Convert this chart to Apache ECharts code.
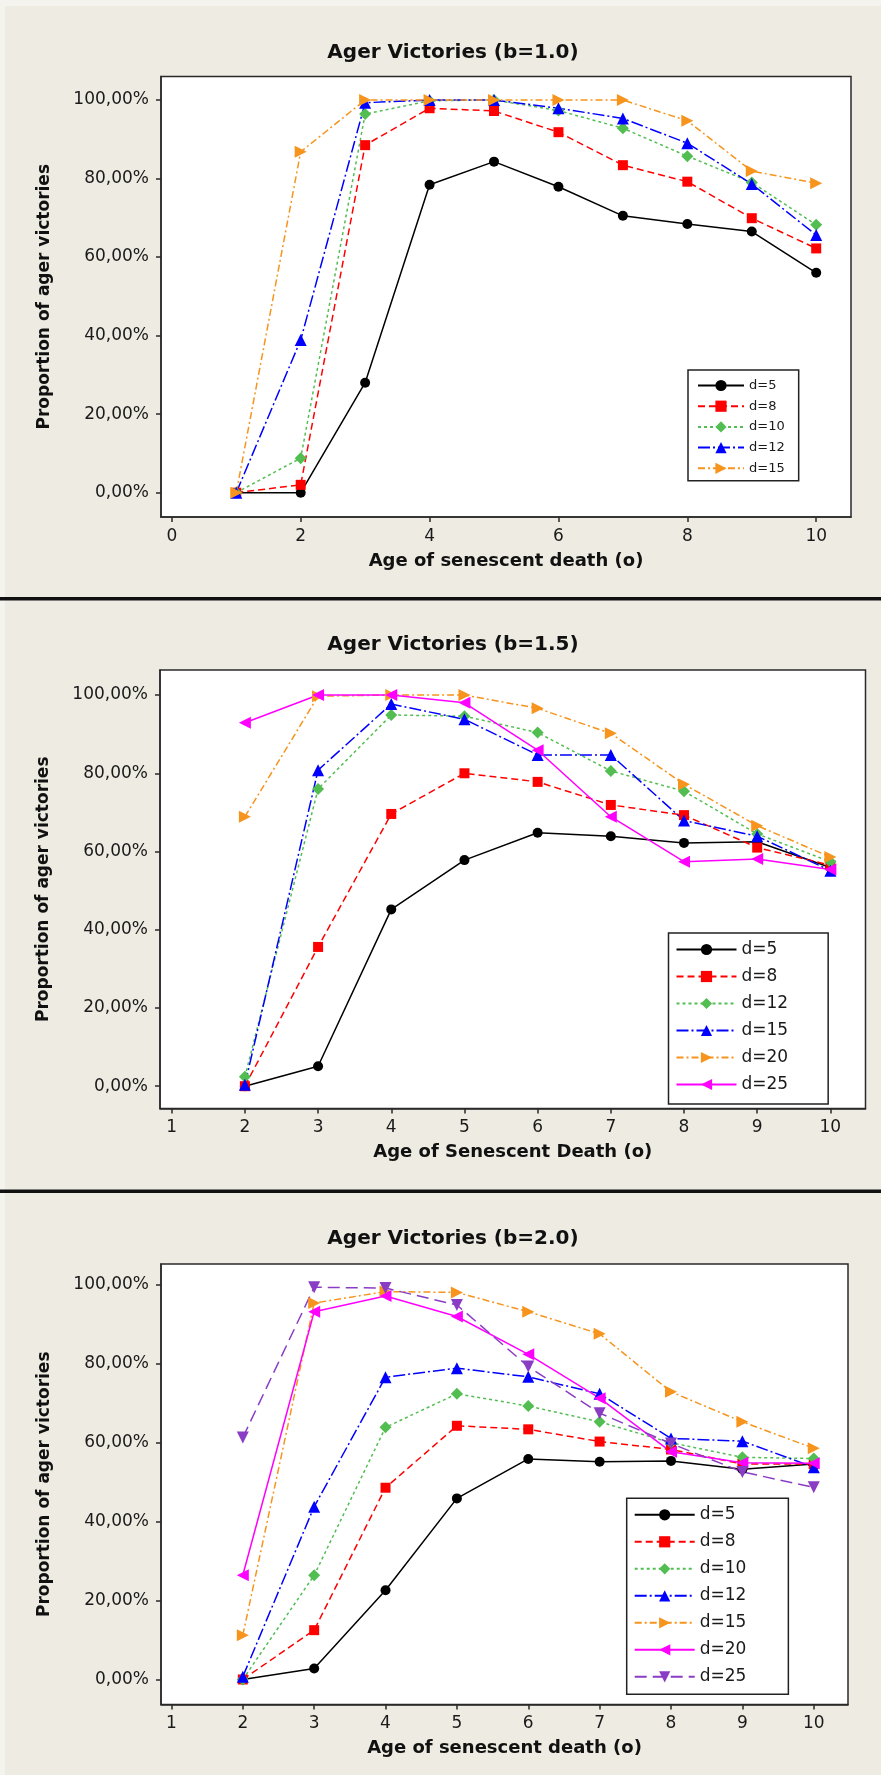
<!DOCTYPE html>
<html><head><meta charset="utf-8">
<script src="https://cdn.jsdelivr.net/npm/echarts@6/dist/echarts.min.js"></script>
<style>html,body{margin:0;padding:0;background:#EEEBE2;} #c{width:881px;height:1775px;}</style>
</head><body><div id="c"></div>
<script>
// ---------------- DATA ----------------
const titles = ['Ager Victories (b=1.0)', 'Ager Victories (b=1.5)', 'Ager Victories (b=2.0)'];
const xNames = ['Age of senescent death (o)', 'Age of Senescent Death (o)', 'Age of senescent death (o)'];
const yName = 'Proportion of ager victories';
const yTicks = [0, 20, 40, 60, 80, 100];
const xTicks1 = [0, 2, 4, 6, 8, 10];
const xTicks23 = [1, 2, 3, 4, 5, 6, 7, 8, 9, 10];

// Panel 1 (b=1.0)
const x1 = [1, 2, 3, 4, 5, 6, 7, 8, 9, 10];
const legend1 = ['d=5', 'd=8', 'd=10', 'd=12', 'd=15'];
const b10_d5  = [0, 0, 28.0, 78.4, 84.3, 77.9, 70.5, 68.4, 66.5, 56.0];
const b10_d8  = [0, 2.0, 88.5, 97.9, 97.2, 91.8, 83.4, 79.2, 69.9, 62.2];
const b10_d10 = [0, 8.8, 96.4, 99.8, 100, 97.3, 92.8, 85.7, 79.0, 68.2];
const b10_d12 = [0, 38.9, 99.3, 100, 100, 97.9, 95.3, 89.0, 78.6, 65.6];
const b10_d15 = [0, 86.8, 100, 100, 100, 100, 100, 94.7, 81.9, 78.8];

// Panel 2 (b=1.5)
const x2 = [2, 3, 4, 5, 6, 7, 8, 9, 10];
const legend2 = ['d=5', 'd=8', 'd=12', 'd=15', 'd=20', 'd=25'];
const b15_d5  = [0, 5.1, 45.2, 57.8, 64.8, 63.9, 62.2, 62.5, 55.9];
const b15_d8  = [0, 35.6, 69.6, 80.0, 77.8, 71.9, 69.3, 61.0, 56.5];
const b15_d12 = [2.4, 76.0, 94.9, 94.6, 90.4, 80.6, 75.4, 64.5, 57.4];
const b15_d15 = [0.4, 80.8, 97.7, 93.8, 84.7, 84.7, 67.9, 63.9, 55.1];
const b15_d20 = [68.9, 99.7, 100, 100, 96.6, 90.2, 77.2, 66.6, 58.6];
const b15_d25 = [92.9, 100, 100, 98.0, 85.9, 68.9, 57.4, 58.1, 55.4];

// Panel 3 (b=2.0)
const x3 = [2, 3, 4, 5, 6, 7, 8, 9, 10];
const legend3 = ['d=5', 'd=8', 'd=10', 'd=12', 'd=15', 'd=20', 'd=25'];
const b20_d5  = [0, 2.8, 22.6, 45.9, 55.9, 55.2, 55.4, 53.3, 54.6];
const b20_d8  = [0, 12.5, 48.6, 64.3, 63.4, 60.3, 58.3, 54.6, 54.6];
const b20_d10 = [0, 26.4, 63.9, 72.4, 69.3, 65.3, 60.0, 56.3, 56.0];
const b20_d12 = [0.7, 43.8, 76.6, 78.9, 76.7, 72.4, 61.1, 60.4, 53.8];
const b20_d15 = [11.2, 95.4, 98.3, 98.1, 93.2, 87.6, 72.9, 65.3, 58.6];
const b20_d20 = [26.4, 93.2, 97.2, 92.0, 82.4, 71.3, 57.7, 54.9, 54.8];
const b20_d25 = [61.3, 99.4, 99.2, 94.9, 79.3, 67.5, 59.8, 52.6, 48.7];

// ---------------- STYLES ----------------
const FONT = 'DejaVu Sans';
const ROLES = {
  black:   {color: '#000000', symbol: 'circle', size: 10, rot: 0, dash: 'solid'},
  red:     {color: '#FF0000', symbol: 'rect', size: 10, rot: 0, dash: [7, 4]},
  green:   {color: '#52BE52', symbol: 'diamond', size: 12, rot: 0, dash: [3, 3]},
  blue:    {color: '#0000FF', symbol: 'triangle', size: 12, rot: 0, dash: [12, 3, 2, 3]},
  orange:  {color: '#F7941D', symbol: 'triangle', size: 12, rot: -90, dash: [7, 3, 2, 3]},
  magenta: {color: '#FF00FF', symbol: 'triangle', size: 12, rot: 90, dash: 'solid'},
  purple:  {color: '#8A3CC4', symbol: 'triangle', size: 12, rot: 180, dash: [12, 6]}
};

const panels = [
  {
    grid: {left: 161, top: 76.5, width: 690, height: 440.5},
    xMin: -0.168, xMax: 10.54, yMin: -6.19, yMax: 105.98, xTicks: xTicks1,
    x: x1, names: legend1, data: [b10_d5, b10_d8, b10_d10, b10_d12, b10_d15],
    roles: ['black', 'red', 'green', 'blue', 'orange'],
    titleTop: 38,
    legend: {left: 688, top: 370, padding: [9, 14, 6, 9], itemWidth: 46, itemHeight: 14, itemGap: 7.7, fontSize: 13}
  },
  {
    grid: {left: 160, top: 670, width: 705.5, height: 438.5},
    xMin: 0.84, xMax: 10.48, yMin: -5.7, yMax: 106.4, xTicks: xTicks23,
    x: x2, names: legend2, data: [b15_d5, b15_d8, b15_d12, b15_d15, b15_d20, b15_d25],
    roles: ['black', 'red', 'green', 'blue', 'orange', 'magenta'],
    titleTop: 630,
    legend: {left: 668.5, top: 933, padding: [8, 40, 11, 7], itemWidth: 60, itemHeight: 14, itemGap: 10, fontSize: 17}
  },
  {
    grid: {left: 161, top: 1264, width: 687, height: 440.5},
    xMin: 0.854, xMax: 10.48, yMin: -6.34, yMax: 105.3, xTicks: xTicks23,
    x: x3, names: legend3, data: [b20_d5, b20_d8, b20_d10, b20_d12, b20_d15, b20_d20, b20_d25],
    roles: ['black', 'red', 'green', 'blue', 'orange', 'magenta', 'purple'],
    titleTop: 1224,
    legend: {left: 626.7, top: 1498.3, padding: [8, 42, 9, 7], itemWidth: 60, itemHeight: 14, itemGap: 10, fontSize: 17}
  }
];

const option = {
  backgroundColor: '#EEEBE2',
  animation: false,
  title: [], grid: [], xAxis: [], yAxis: [], legend: [], series: [],
  graphic: [
    {type: 'rect', left: 0, top: 0, shape: {width: 881, height: 6}, style: {fill: '#F5F3EE'}, z: -1},
    {type: 'rect', left: 0, top: 0, shape: {width: 5, height: 1775}, style: {fill: '#F5F3EE'}, z: -1},
    {type: 'rect', left: 0, top: 597, shape: {width: 881, height: 3.5}, style: {fill: '#111111'}},
    {type: 'rect', left: 0, top: 1189.5, shape: {width: 881, height: 3.5}, style: {fill: '#111111'}}
  ]
};

panels.forEach((p, i) => {
  const tag = 'p' + i + '|';
  option.title.push({
    text: titles[i], left: 448, top: p.titleTop, textAlign: 'center',
    textStyle: {fontFamily: FONT, fontSize: 20, fontWeight: 'bold', color: '#111'}
  });
  option.grid.push(Object.assign({show: true, backgroundColor: '#FFFFFF', borderColor: '#2A2A2A', borderWidth: 1.5}, p.grid));
  option.xAxis.push({
    type: 'value', gridIndex: i, min: p.xMin, max: p.xMax,
    name: xNames[i], nameLocation: 'middle', nameGap: 35,
    nameTextStyle: {fontFamily: FONT, fontSize: 18, fontWeight: 'bold', color: '#111'},
    axisLine: {show: true, onZero: false, lineStyle: {color: '#2A2A2A', width: 1.5}},
    axisTick: {show: true, length: 5, inside: false, customValues: p.xTicks, lineStyle: {color: '#2A2A2A', width: 1.5}},
    axisLabel: {customValues: p.xTicks, margin: 11, fontFamily: FONT, fontSize: 17, color: '#1a1a1a'},
    splitLine: {show: false}
  });
  option.yAxis.push({
    type: 'value', gridIndex: i, min: p.yMin, max: p.yMax,
    name: yName, nameLocation: 'middle', nameGap: 108, nameRotate: 90,
    nameTextStyle: {fontFamily: FONT, fontSize: 17, fontWeight: 'bold', color: '#111'},
    axisLine: {show: true, onZero: false, lineStyle: {color: '#2A2A2A', width: 1.5}},
    axisTick: {show: true, length: 5, inside: false, customValues: yTicks, lineStyle: {color: '#2A2A2A', width: 1.5}},
    axisLabel: {customValues: yTicks, margin: 12, fontFamily: FONT, fontSize: 17, color: '#1a1a1a',
      formatter: v => v.toFixed(2).replace('.', ',') + '%'},
    splitLine: {show: false}
  });
  const L = p.legend;
  option.legend.push({
    orient: 'vertical', left: L.left, top: L.top, padding: L.padding,
    itemWidth: L.itemWidth, itemHeight: L.itemHeight, itemGap: L.itemGap,
    backgroundColor: '#FFFFFF', borderColor: '#222', borderWidth: 1.5, borderRadius: 0,
    data: p.names.map(n => tag + n),
    formatter: name => name.split('|')[1],
    textStyle: {fontFamily: FONT, fontSize: L.fontSize, color: '#1a1a1a'},
    selectedMode: false
  });
  p.names.forEach((n, k) => {
    const r = ROLES[p.roles[k]];
    option.series.push({
      name: tag + n, type: 'line', xAxisIndex: i, yAxisIndex: i,
      data: p.x.map((xv, j) => [xv, p.data[k][j]]),
      symbol: r.symbol, symbolSize: r.size, symbolRotate: r.rot,
      showSymbol: true,
      lineStyle: {color: r.color, width: 1.5, type: r.dash},
      itemStyle: {color: r.color, borderWidth: 0}
    });
  });
});

const chart = echarts.init(document.getElementById('c'), null, {renderer: 'canvas'});
chart.setOption(option);
</script>
</body></html>
